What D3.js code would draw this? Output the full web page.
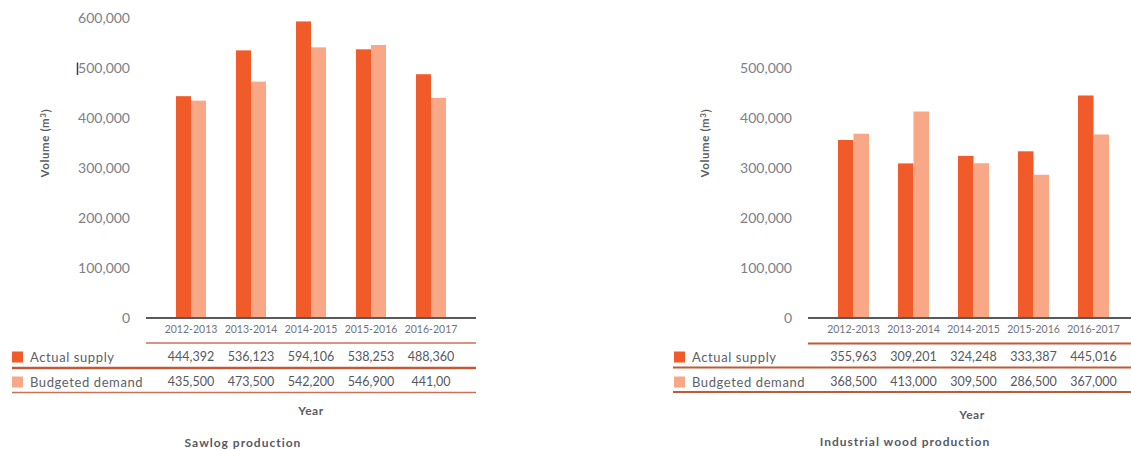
<!DOCTYPE html>
<html>
<head>
<meta charset="utf-8">
<script src="https://cdn.jsdelivr.net/npm/d3@7"></script>
<style>
  html, body { margin: 0; padding: 0; background: #fff; }
  svg { display: block; font-family: Lato, "Open Sans", sans-serif; }
</style>
</head>
<body>
<svg id="chart" width="1131" height="450"></svg>
<script>
// Harvest years shared by both panels
const years = ["2012-2013", "2013-2014", "2014-2015", "2015-2016", "2016-2017"];
const seriesNames = ["Actual supply", "Budgeted demand"];

// Sawlog production (m³)
const sawlogActual = [444392, 536123, 594106, 538253, 488360];
const sawlogBudget = [435500, 473500, 542200, 546900, 441000];
const sawlogActualText = ["444,392", "536,123", "594,106", "538,253", "488,360"];
const sawlogBudgetText = ["435,500", "473,500", "542,200", "546,900", "441,00"];
const sawlogTicks = [0, 100000, 200000, 300000, 400000, 500000, 600000];

// Industrial wood production (m³)
const industrialActual = [355963, 309201, 324248, 333387, 445016];
const industrialBudget = [368500, 413000, 309500, 286500, 367000];
const industrialActualText = ["355,963", "309,201", "324,248", "333,387", "445,016"];
const industrialBudgetText = ["368,500", "413,000", "309,500", "286,500", "367,000"];
const industrialTicks = [0, 100000, 200000, 300000, 400000, 500000];

const colors = { actual: "#f15a29", budget: "#f8a886" };
const rule = "#bf5a36";
const svg = d3.select("#chart");

function panel(o) {
  const g = svg.append("g");
  const y = d3.scaleLinear().domain([0, d3.max(o.ticks)]).range([o.y0, o.yTop]);
  const x0 = d3.scaleBand().domain(years).range(o.bandRange);
  const x1 = d3.scaleBand().domain(["actual", "budget"])
    .range([0, x0.bandwidth()]).paddingOuter(o.outerPad);

  // value axis labels
  const ya = g.append("g").attr("transform", `translate(${o.tickX},0)`)
    .call(d3.axisLeft(y).tickValues(o.ticks).tickSize(0).tickPadding(0)
      .tickFormat(d3.format(",")));
  ya.select(".domain").remove();
  ya.selectAll("text").attr("fill", "#7b808a").style("font-size", "14px")
    .style("font-family", "Lato, sans-serif");

  // bars
  const rows = years.map((yr, i) => ({ yr, actual: o.actual[i], budget: o.budget[i] }));
  g.append("g").selectAll("g").data(rows).join("g")
    .attr("transform", d => `translate(${x0(d.yr)},0)`)
    .selectAll("rect")
    .data(d => ["actual", "budget"].map(k => ({ k, v: d[k] })))
    .join("rect")
    .attr("x", d => x1(d.k))
    .attr("width", x1.bandwidth())
    .attr("y", d => y(d.v))
    .attr("height", d => y(0) - y(d.v))
    .attr("fill", d => colors[d.k]);

  // baseline
  g.append("line").attr("x1", o.baseX[0]).attr("x2", o.baseX[1])
    .attr("y1", y(0)).attr("y2", y(0))
    .attr("stroke", "#58595b").attr("stroke-width", 2);

  // category labels
  const xa = g.append("g").attr("transform", `translate(0,${y(0)})`)
    .call(d3.axisBottom(x0).tickSize(0).tickPadding(8));
  xa.select(".domain").remove();
  xa.selectAll("text").attr("fill", "#6f737b").style("font-size", "10.5px")
    .style("font-family", "Lato, sans-serif");

  // data table rules
  o.rules.forEach(r => {
    g.append("line").attr("x1", r.x1).attr("x2", r.x2).attr("y1", r.y).attr("y2", r.y)
      .attr("stroke", rule).attr("stroke-width", r.w).attr("opacity", r.op || 1);
  });

  // data table rows
  const tableRows = [
    { name: seriesNames[0], key: "actual", text: o.actualText, y: 357 },
    { name: seriesNames[1], key: "budget", text: o.budgetText, y: 382 }
  ];
  tableRows.forEach(r => {
    g.append("rect").attr("x", o.legendX).attr("y", r.y - 5.5)
      .attr("width", 11).attr("height", 11).attr("fill", colors[r.key]);
    g.append("text").attr("x", o.legendX + 18).attr("y", r.y).attr("dy", "0.35em")
      .attr("fill", "#5d6068").style("font-size", "13px").style("letter-spacing", "0.6px")
      .text(r.name);
    g.append("g").selectAll("text").data(years).join("text")
      .attr("x", d => x0(d) + x0.bandwidth() / 2).attr("y", r.y).attr("dy", "0.35em")
      .attr("text-anchor", "middle").attr("fill", "#555960").style("font-size", "12.5px")
      .text((d, i) => r.text[i]);
  });

  // axis titles
  const vt = g.append("text")
    .attr("transform", `translate(${o.volX},${o.volY}) rotate(-90)`)
    .attr("text-anchor", "middle").attr("dy", "0.35em")
    .attr("fill", "#5a5d66").style("font-size", "11.5px").style("font-weight", 700)
    .style("letter-spacing", "0.6px");
  vt.append("tspan").text("Volume (m");
  vt.append("tspan").attr("dy", "-0.35em").style("font-size", "8px").text("3");
  vt.append("tspan").attr("dy", "0.35em").text(")");

  g.append("text").attr("x", o.yearX).attr("y", o.yearY).attr("dy", "0.35em")
    .attr("text-anchor", "middle").attr("fill", "#5a5d66")
    .style("font-size", "12px").style("font-weight", 700).style("letter-spacing", "0.5px")
    .text("Year");

  g.append("text").attr("x", o.titleX).attr("y", o.titleY).attr("dy", "0.35em")
    .attr("text-anchor", "middle").attr("fill", "#555a66")
    .style("font-size", "12px").style("font-weight", 700).style("letter-spacing", "1px")
    .text(o.title);
  return g;
}

panel({
  actual: sawlogActual, budget: sawlogBudget,
  actualText: sawlogActualText, budgetText: sawlogBudgetText,
  ticks: sawlogTicks, y0: 318, yTop: 18.5, tickX: 130,
  bandRange: [161, 461], outerPad: 1, baseX: [146, 476], legendX: 12,
  rules: [
    { x1: 146, x2: 476, y: 343, w: 1.3, op: 0.85 },
    { x1: 12, x2: 476, y: 368, w: 2.4 },
    { x1: 12, x2: 476, y: 392.5, w: 1.5, op: 0.85 }
  ],
  volX: 45, volY: 143, yearX: 311, yearY: 411,
  titleX: 243, titleY: 443, title: "Sawlog production"
});

// text caret left beside the 500,000 label
svg.append("line").attr("x1", 77.5).attr("x2", 77.5).attr("y1", 62.5).attr("y2", 75)
  .attr("stroke", "#3a3d48").attr("stroke-width", 1.5);

panel({
  actual: industrialActual, budget: industrialBudget,
  actualText: industrialActualText, budgetText: industrialBudgetText,
  ticks: industrialTicks, y0: 318, yTop: 68, tickX: 792,
  bandRange: [823.5, 1123.5], outerPad: 0.935, baseX: [808, 1131], legendX: 674,
  rules: [
    { x1: 808, x2: 1131, y: 343.5, w: 2 },
    { x1: 673, x2: 1131, y: 367.5, w: 2 },
    { x1: 673, x2: 1131, y: 392, w: 2 }
  ],
  volX: 705, volY: 143, yearX: 972, yearY: 415,
  titleX: 905, titleY: 442, title: "Industrial wood production"
});
</script>
</body>
</html>
